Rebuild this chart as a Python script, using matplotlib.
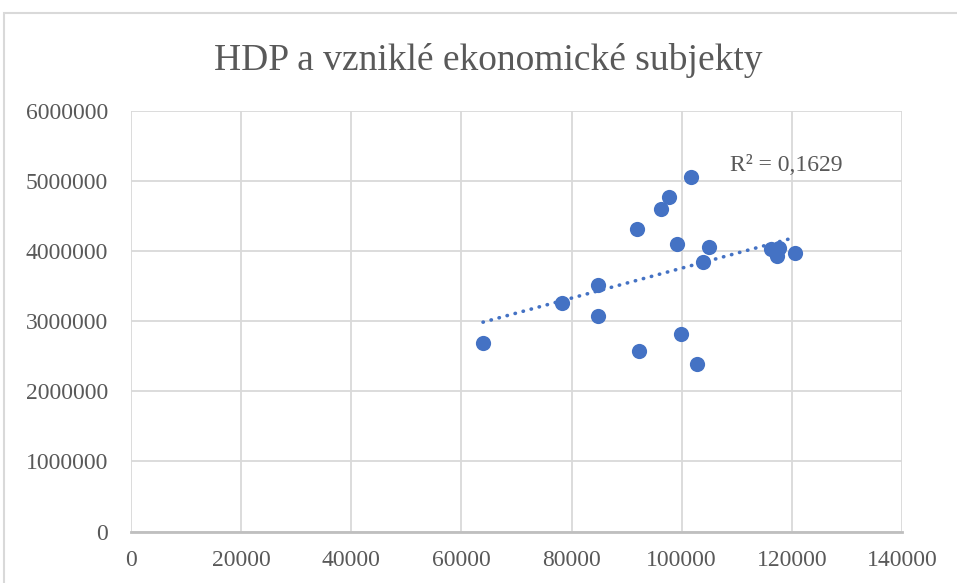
import numpy as np
import matplotlib.pyplot as plt
from matplotlib.patches import Rectangle

# HDP vs. newly founded economic subjects
hdp = [63920, 78200, 84860, 84860, 91810, 92230, 96230, 97750, 99200,
       99930, 101740, 102760, 103790, 104880, 116260, 117640, 117280, 120490]
subjekty = [2681000, 3265000, 3521000, 3066000, 4319000, 2571000, 4598000,
            4775000, 4100000, 2818000, 5060000, 2386000, 3843000, 4057000,
            4024000, 4038000, 3934000, 3972000]
title = 'HDP a vzniklé ekonomické subjekty'
r2_label = 'R² = 0,1629'

xticks = [0, 20000, 40000, 60000, 80000, 100000, 120000, 140000]
yticks = [0, 1000000, 2000000, 3000000, 4000000, 5000000, 6000000]

blue = '#4472C4'
grey_txt = '#595959'
grid_c = '#D9D9D9'

plt.rcParams['font.family'] = ['Liberation Serif', 'DejaVu Serif']

fig = plt.figure(figsize=(9.57, 5.83), dpi=100)
fig.patches.append(Rectangle((4/957, -0.05), 1.0, 1 - 13/583 + 0.05,
                             transform=fig.transFigure, fill=False,
                             edgecolor=grid_c, linewidth=1.5))

ax = fig.add_axes([131/957, 51.5/583, 771/957, 420.8/583])
ax.scatter(hdp, subjekty, s=120, color=blue, zorder=3, linewidths=0)

# linear trendline
k, q = np.polyfit(hdp, subjekty, 1)
xs = np.array([min(hdp), max(hdp)])
ax.plot(xs, k*xs + q, linestyle=(0, (0.1, 2.2)), dash_capstyle='round',
        color=blue, linewidth=2.6, zorder=2)

ax.set_xlim(0, 140000)
ax.set_ylim(0, 6000000)
ax.set_xticks(xticks)
ax.set_yticks(yticks)
ax.set_xticklabels([str(t) for t in xticks])
ax.set_yticklabels([str(t) for t in yticks])
ax.tick_params(length=0, labelsize=17, colors=grey_txt)
ax.tick_params(axis='x', pad=13)
ax.tick_params(axis='y', pad=16.5)
ax.grid(True, color=grid_c, linewidth=1.3)
ax.set_axisbelow(True)
for s in ['top', 'right', 'left']:
    ax.spines[s].set_visible(False)
ax.spines['bottom'].set_color('#BFBFBF')
ax.spines['bottom'].set_linewidth(2)
ax.spines['bottom'].set_zorder(2.5)

ax.text(0.777, 0.8686, r2_label, transform=ax.transAxes, fontsize=17,
        color=grey_txt, va='center', ha='left')
fig.text(488/957, 1 - 60/583, title, fontsize=27, color=grey_txt,
         ha='center', va='center')

plt.savefig('out.png', dpi=100)
